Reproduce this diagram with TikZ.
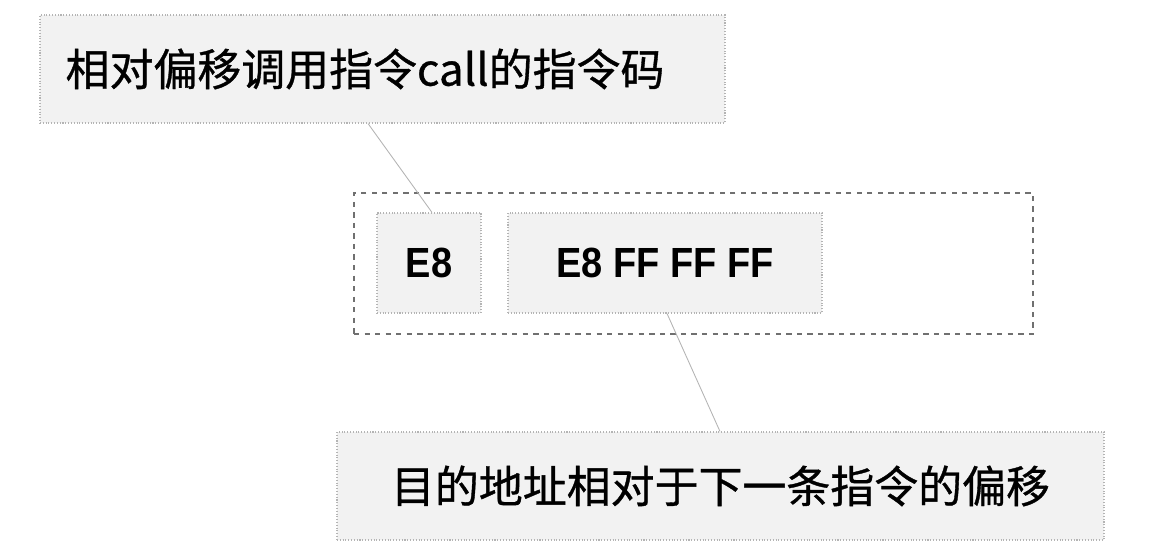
\documentclass[tikz,border=0pt]{standalone}
\usepackage{fontspec}
\usepackage{xcolor}
\usepackage{tikz}
\newfontfamily\cjk[FakeBold=0.8]{Noto Sans CJK SC}
\newfontfamily\hexfont[FakeStretch=0.9]{Liberation Sans}
\definecolor{boxfill}{HTML}{F2F2F2}
\definecolor{boxline}{HTML}{B4B4B4}
\definecolor{outerline}{HTML}{707070}

\begin{document}
\begin{tikzpicture}[
    labelbox/.style={draw=boxline, fill=boxfill, densely dotted, line width=0.6pt,
        minimum height=2.16cm, inner sep=0pt, font=\cjk\fontsize{25}{25}\selectfont},
    bytebox/.style={draw=boxline, fill=boxfill, densely dotted, line width=0.6pt,
        minimum height=2cm, inner sep=0pt, font=\hexfont\bfseries\fontsize{24}{24}\selectfont},
    link/.style={-, draw=boxline, line width=0.5pt}
]
            \useasboundingbox (0,0) rectangle (23.04,-11.04);
            \node[draw=outerline, dashed, line width=0.8pt, minimum width=13.58cm, minimum height=2.82cm] (outer) at (13.87,-5.27) {};
            \node[labelbox, minimum width=13.7cm] (opcode) at (7.65,-1.38) {相对偏移调用指令call的指令码\hspace*{0.7cm}};
            \node[bytebox, minimum width=2.08cm] (e8) at (8.58,-5.26) {E8};
            \node[bytebox, minimum width=6.28cm] (offset) at (13.3,-5.26) {E8 FF FF FF};
            \node[labelbox, minimum width=15.34cm] (target) at (14.41,-9.72) {目的地址相对于下一条指令的偏移};
            \coordinate (opcodefoot) at (opcode.south -| 7.36,0);
            \coordinate (e8head) at (e8.north -| 8.64,0);
            \coordinate (offsetfoot) at (offset.south -| 13.34,0);
            \coordinate (targethead) at (target.north -| 14.4,0);
            \draw[link] (opcodefoot) to (e8head);
            \draw[link] (offsetfoot) to (targethead);
        \end{tikzpicture}
\end{document}
